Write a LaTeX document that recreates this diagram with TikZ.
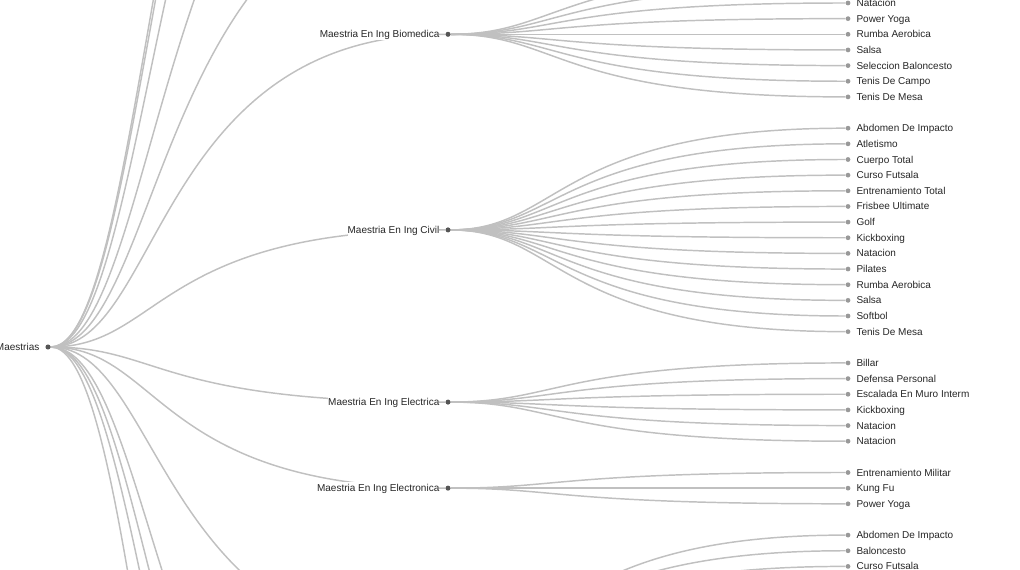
\documentclass[tikz,border=0pt]{standalone}
\usepackage{fontspec}
\setmainfont{Liberation Sans}
\usepackage{tikz}
\usepackage{xcolor}
\pgfdeclarelayer{background}
\pgfsetlayers{background,main}
\definecolor{linkgray}{RGB}{192,192,192}
\definecolor{leafgray}{RGB}{153,153,153}
\definecolor{branchgray}{RGB}{85,85,85}
\tikzset{link/.style = {draw = linkgray, line width = 1.1pt}}
\tikzset{leaf/.style = {circle, fill = leafgray, inner sep = 0pt, minimum size = 3.6pt}}
\tikzset{branch/.style = {circle, fill = branchgray, inner sep = 0pt, minimum size = 3.8pt}}
\tikzset{leaftext/.style = {font = \fontsize{7.5}{9}\selectfont, text = black!85, inner sep = 0pt, text height = 5.3pt, text depth = 0pt, label distance = 4.2pt}}
\tikzset{midtext/.style = {leaftext, fill = white, text height = 6.9pt, text depth = 1.6pt}}

\begin{document}
\begin{tikzpicture}[x = 0.75pt, y = -0.75pt]

  \def\rx{48}
  \def\mx{448}
  \def\lx{848}
  \def\first{3}
  \def\row{15.65}
  \def\reach{110}
  \def\back{-290}

  \useasboundingbox (0 , 0) rectangle (1020 , 570);

  \begin{scope}
  \clip (0 , 0) rectangle (968 , 570);

  \node [branch, label = {[leaftext]left:Maestrias}] (root) at (\rx , 347) {};

  \node [branch, label = {[midtext]left:Maestria En Ing Biomedica}] (bio) at (\mx , \first + 2 * \row) {};
  \node [branch, label = {[midtext]left:Maestria En Ing Civil}] (civ) at (\mx , \first + 14.5 * \row) {};
  \node [branch, label = {[midtext]left:Maestria En Ing Electrica}] (ele) at (\mx , \first + 25.5 * \row) {};
  \node [branch, label = {[midtext]left:Maestria En Ing Electronica}] (etr) at (\mx , \first + 31 * \row) {};
  \coordinate (nxt) at (\mx , 650);

  \coordinate (up1) at (\mx , -110);
  \coordinate (up2) at (\mx , -273);
  \coordinate (up3) at (\mx , -493);
  \coordinate (up4) at (\mx , -625);
  \coordinate (up5) at (\mx , -660);
  \coordinate (dn1) at (\mx , 914);
  \coordinate (dn2) at (\mx , 1042);
  \coordinate (dn3) at (\mx , 1185);
  \coordinate (dn4) at (\mx , 1457);

  \coordinate (bio1) at (\lx , \first - 2 * \row);
  \coordinate (bio2) at (\lx , \first - \row);
  \node [leaf, label = {[leaftext]right:Natacion}] (bio3) at (\lx , \first) {};
  \node [leaf, label = {[leaftext]right:Power Yoga}] (bio4) at (\lx , \first + \row) {};
  \node [leaf, label = {[leaftext]right:Rumba Aerobica}] (bio5) at (\lx , \first + 2 * \row) {};
  \node [leaf, label = {[leaftext]right:Salsa}] (bio6) at (\lx , \first + 3 * \row) {};
  \node [leaf, label = {[leaftext]right:Seleccion Baloncesto}] (bio7) at (\lx , \first + 4 * \row) {};
  \node [leaf, label = {[leaftext]right:Tenis De Campo}] (bio8) at (\lx , \first + 5 * \row) {};
  \node [leaf, label = {[leaftext]right:Tenis De Mesa}] (bio9) at (\lx , \first + 6 * \row) {};

  \node [leaf, label = {[leaftext]right:Abdomen De Impacto}] (civ1) at (\lx , \first + 8 * \row) {};
  \node [leaf, label = {[leaftext]right:Atletismo}] (civ2) at (\lx , \first + 9 * \row) {};
  \node [leaf, label = {[leaftext]right:Cuerpo Total}] (civ3) at (\lx , \first + 10 * \row) {};
  \node [leaf, label = {[leaftext]right:Curso Futsala}] (civ4) at (\lx , \first + 11 * \row) {};
  \node [leaf, label = {[leaftext]right:Entrenamiento Total}] (civ5) at (\lx , \first + 12 * \row) {};
  \node [leaf, label = {[leaftext]right:Frisbee Ultimate}] (civ6) at (\lx , \first + 13 * \row) {};
  \node [leaf, label = {[leaftext]right:Golf}] (civ7) at (\lx , \first + 14 * \row) {};
  \node [leaf, label = {[leaftext]right:Kickboxing}] (civ8) at (\lx , \first + 15 * \row) {};
  \node [leaf, label = {[leaftext]right:Natacion}] (civ9) at (\lx , \first + 16 * \row) {};
  \node [leaf, label = {[leaftext]right:Pilates}] (civ10) at (\lx , \first + 17 * \row) {};
  \node [leaf, label = {[leaftext]right:Rumba Aerobica}] (civ11) at (\lx , \first + 18 * \row) {};
  \node [leaf, label = {[leaftext]right:Salsa}] (civ12) at (\lx , \first + 19 * \row) {};
  \node [leaf, label = {[leaftext]right:Softbol}] (civ13) at (\lx , \first + 20 * \row) {};
  \node [leaf, label = {[leaftext]right:Tenis De Mesa}] (civ14) at (\lx , \first + 21 * \row) {};

  \node [leaf, label = {[leaftext]right:Billar}] (ele1) at (\lx , \first + 23 * \row) {};
  \node [leaf, label = {[leaftext]right:Defensa Personal}] (ele2) at (\lx , \first + 24 * \row) {};
  \node [leaf, label = {[leaftext]right:Escalada En Muro Interm}] (ele3) at (\lx , \first + 25 * \row) {};
  \node [leaf, label = {[leaftext]right:Kickboxing}] (ele4) at (\lx , \first + 26 * \row) {};
  \node [leaf, label = {[leaftext]right:Natacion}] (ele5) at (\lx , \first + 27 * \row) {};
  \node [leaf, label = {[leaftext]right:Natacion}] (ele6) at (\lx , \first + 28 * \row) {};

  \node [leaf, label = {[leaftext]right:Entrenamiento Militar}] (etr1) at (\lx , \first + 30 * \row) {};
  \node [leaf, label = {[leaftext]right:Kung Fu}] (etr2) at (\lx , \first + 31 * \row) {};
  \node [leaf, label = {[leaftext]right:Power Yoga}] (etr3) at (\lx , \first + 32 * \row) {};

  \node [leaf, label = {[leaftext]right:Abdomen De Impacto}] (nxt1) at (\lx , \first + 34 * \row) {};
  \node [leaf, label = {[leaftext]right:Baloncesto}] (nxt2) at (\lx , \first + 35 * \row) {};
  \node [leaf, label = {[leaftext]right:Curso Futsala}] (nxt3) at (\lx , \first + 36 * \row) {};
  \end{scope}

  \begin{pgfonlayer}{background}
  \clip (0 , 0) rectangle (968 , 570);

  \draw [link] (root.east) .. controls +(\reach , 0) and +(\back , 0) .. (up5);
  \draw [link] (root.east) .. controls +(\reach , 0) and +(\back , 0) .. (up4);
  \draw [link] (root.east) .. controls +(\reach , 0) and +(\back , 0) .. (up3);
  \draw [link] (root.east) .. controls +(\reach , 0) and +(\back , 0) .. (up2);
  \draw [link] (root.east) .. controls +(\reach , 0) and +(\back , 0) .. (up1);
  \draw [link] (root.east) .. controls +(\reach , 0) and +(\back , 0) .. (bio.west);
  \draw [link] (root.east) .. controls +(\reach , 0) and +(\back , 0) .. (civ.west);
  \draw [link] (root.east) .. controls +(\reach , 0) and +(\back , 0) .. (ele.west);
  \draw [link] (root.east) .. controls +(\reach , 0) and +(\back , 0) .. (etr.west);
  \draw [link] (root.east) .. controls +(\reach , 0) and +(\back , 0) .. (nxt);
  \draw [link] (root.east) .. controls +(\reach , 0) and +(\back , 0) .. (dn1);
  \draw [link] (root.east) .. controls +(\reach , 0) and +(\back , 0) .. (dn2);
  \draw [link] (root.east) .. controls +(\reach , 0) and +(\back , 0) .. (dn3);
  \draw [link] (root.east) .. controls +(\reach , 0) and +(\back , 0) .. (dn4);

  \draw [link] (bio.east) .. controls +(\reach , 0) and +(\back , 0) .. (bio1);
  \draw [link] (bio.east) .. controls +(\reach , 0) and +(\back , 0) .. (bio2);
  \draw [link] (bio.east) .. controls +(\reach , 0) and +(\back , 0) .. (bio3.west);
  \draw [link] (bio.east) .. controls +(\reach , 0) and +(\back , 0) .. (bio4.west);
  \draw [link] (bio.east) .. controls +(\reach , 0) and +(\back , 0) .. (bio5.west);
  \draw [link] (bio.east) .. controls +(\reach , 0) and +(\back , 0) .. (bio6.west);
  \draw [link] (bio.east) .. controls +(\reach , 0) and +(\back , 0) .. (bio7.west);
  \draw [link] (bio.east) .. controls +(\reach , 0) and +(\back , 0) .. (bio8.west);
  \draw [link] (bio.east) .. controls +(\reach , 0) and +(\back , 0) .. (bio9.west);

  \draw [link] (civ.east) .. controls +(\reach , 0) and +(\back , 0) .. (civ1.west);
  \draw [link] (civ.east) .. controls +(\reach , 0) and +(\back , 0) .. (civ2.west);
  \draw [link] (civ.east) .. controls +(\reach , 0) and +(\back , 0) .. (civ3.west);
  \draw [link] (civ.east) .. controls +(\reach , 0) and +(\back , 0) .. (civ4.west);
  \draw [link] (civ.east) .. controls +(\reach , 0) and +(\back , 0) .. (civ5.west);
  \draw [link] (civ.east) .. controls +(\reach , 0) and +(\back , 0) .. (civ6.west);
  \draw [link] (civ.east) .. controls +(\reach , 0) and +(\back , 0) .. (civ7.west);
  \draw [link] (civ.east) .. controls +(\reach , 0) and +(\back , 0) .. (civ8.west);
  \draw [link] (civ.east) .. controls +(\reach , 0) and +(\back , 0) .. (civ9.west);
  \draw [link] (civ.east) .. controls +(\reach , 0) and +(\back , 0) .. (civ10.west);
  \draw [link] (civ.east) .. controls +(\reach , 0) and +(\back , 0) .. (civ11.west);
  \draw [link] (civ.east) .. controls +(\reach , 0) and +(\back , 0) .. (civ12.west);
  \draw [link] (civ.east) .. controls +(\reach , 0) and +(\back , 0) .. (civ13.west);
  \draw [link] (civ.east) .. controls +(\reach , 0) and +(\back , 0) .. (civ14.west);

  \draw [link] (ele.east) .. controls +(\reach , 0) and +(\back , 0) .. (ele1.west);
  \draw [link] (ele.east) .. controls +(\reach , 0) and +(\back , 0) .. (ele2.west);
  \draw [link] (ele.east) .. controls +(\reach , 0) and +(\back , 0) .. (ele3.west);
  \draw [link] (ele.east) .. controls +(\reach , 0) and +(\back , 0) .. (ele4.west);
  \draw [link] (ele.east) .. controls +(\reach , 0) and +(\back , 0) .. (ele5.west);
  \draw [link] (ele.east) .. controls +(\reach , 0) and +(\back , 0) .. (ele6.west);

  \draw [link] (etr.east) .. controls +(\reach , 0) and +(\back , 0) .. (etr1.west);
  \draw [link] (etr.east) .. controls +(\reach , 0) and +(\back , 0) .. (etr2.west);
  \draw [link] (etr.east) .. controls +(\reach , 0) and +(\back , 0) .. (etr3.west);

  \draw [link] (nxt) .. controls +(\reach , 0) and +(\back , 0) .. (nxt1.west);
  \draw [link] (nxt) .. controls +(\reach , 0) and +(\back , 0) .. (nxt2.west);
  \draw [link] (nxt) .. controls +(\reach , 0) and +(\back , 0) .. (nxt3.west);
  \end{pgfonlayer}

\end{tikzpicture}
\end{document}
